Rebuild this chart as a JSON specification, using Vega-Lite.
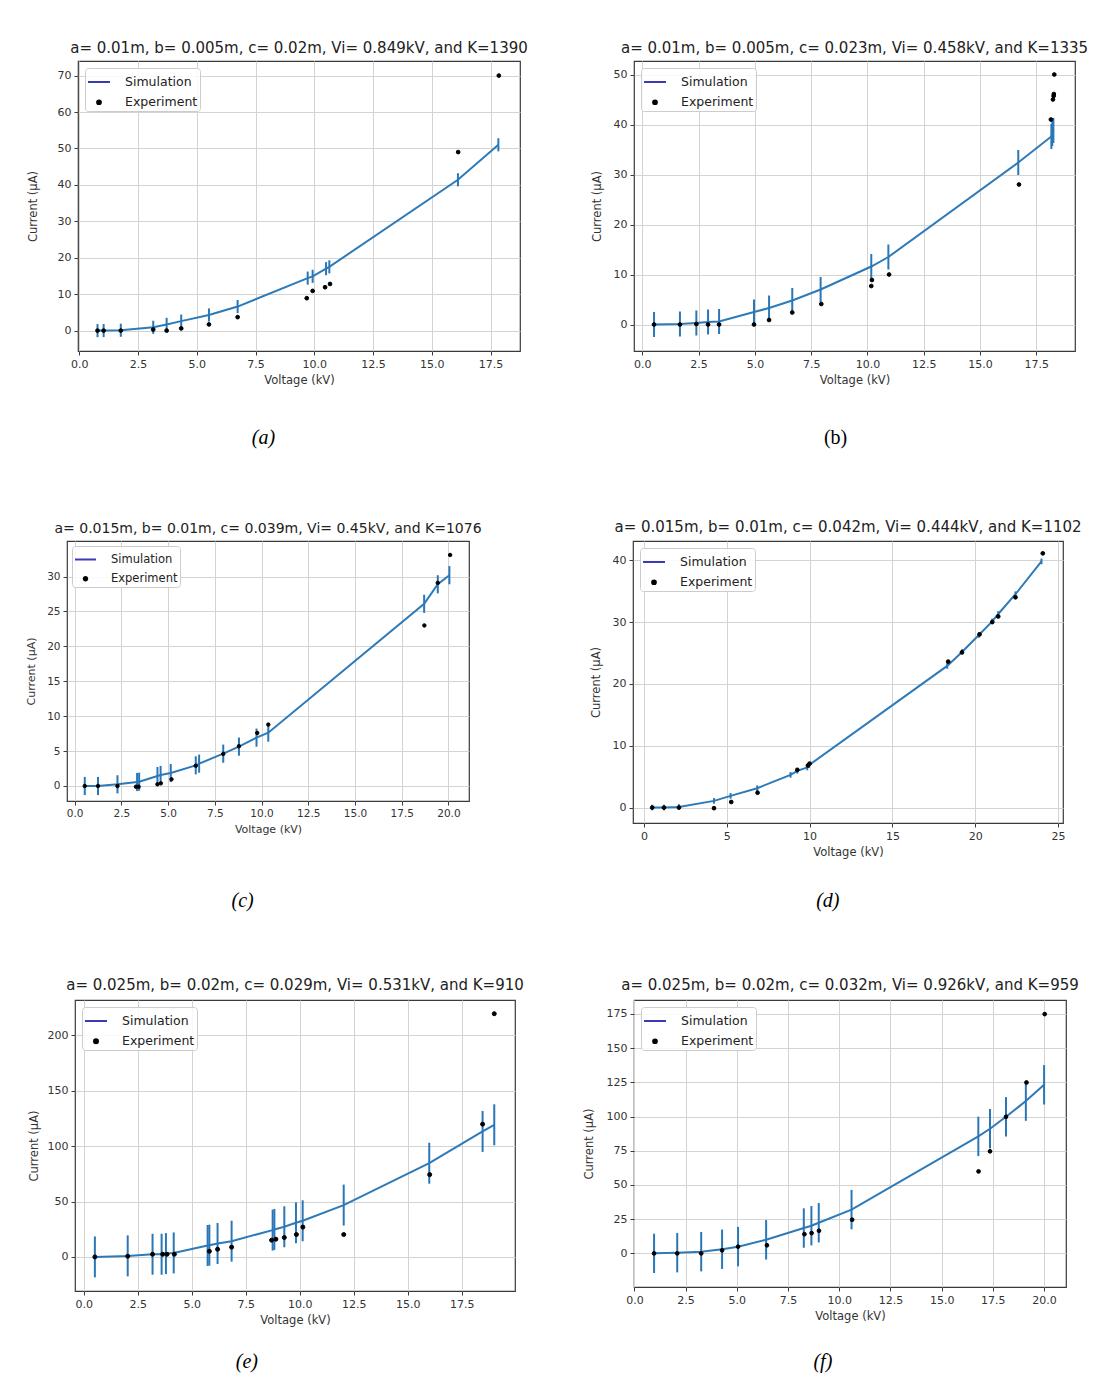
{
  "$schema": "https://vega.github.io/schema/vega-lite/v6.json",
  "padding": {"left": 10, "top": 40, "right": 5, "bottom": 0},
  "background": "white",
  "config": {
    "font": "DejaVu Sans",
    "view": {"stroke": "#3a3a3a", "strokeWidth": 1.2},
    "axis": {"grid": true, "gridColor": "#d3d3d3", "gridWidth": 1, "domain": false, "tickColor": "#3a3a3a", "tickSize": 4, "tickWidth": 1, "labelFont": "DejaVu Sans", "labelFontSize": 11, "labelColor": "#333333", "labelPadding": 3, "titleFont": "DejaVu Sans", "titleFontSize": 11.5, "titleFontWeight": "normal", "titleColor": "#333333", "labelFlush": false},
    "axisX": {"titlePadding": 5},
    "title": {"font": "DejaVu Sans", "fontSize": 15, "fontWeight": "normal", "color": "#222222", "anchor": "middle"},
    "legend": {"orient": "top-left", "offset": 7, "padding": 2, "fillColor": "rgba(255,255,255,0.85)", "strokeColor": "#cccccc", "cornerRadius": 3, "labelFont": "DejaVu Sans", "labelFontSize": 12.5, "labelColor": "#222222", "labelOffset": 14, "rowPadding": 7, "symbolStrokeWidth": 2}
  },
  "datasets": {
    "sim": [
      {"p":"a","V":0.78,"I":0,"e":1.8},{"p":"a","V":1.04,"I":0,"e":1.8},{"p":"a","V":1.77,"I":0.1,"e":1.8},{"p":"a","V":3.15,"I":0.9,"e":1.8},{"p":"a","V":3.72,"I":1.7,"e":1.8},{"p":"a","V":4.34,"I":2.6,"e":1.8},{"p":"a","V":5.52,"I":4.3,"e":1.8},{"p":"a","V":6.74,"I":6.6,"e":1.8},{"p":"a","V":9.72,"I":14.4,"e":1.8},{"p":"a","V":9.93,"I":14.9,"e":1.8},{"p":"a","V":10.5,"I":17.0,"e":1.8},{"p":"a","V":10.64,"I":17.5,"e":1.8},{"p":"a","V":16.11,"I":41.4,"e":1.8},{"p":"a","V":17.83,"I":51.0,"e":1.8},
      {"p":"b","V":0.52,"I":0,"e":2.5},{"p":"b","V":1.67,"I":0.1,"e":2.5},{"p":"b","V":2.4,"I":0.3,"e":2.5},{"p":"b","V":2.92,"I":0.5,"e":2.5},{"p":"b","V":3.41,"I":0.6,"e":2.5},{"p":"b","V":4.96,"I":2.5,"e":2.5},{"p":"b","V":5.63,"I":3.3,"e":2.5},{"p":"b","V":6.66,"I":4.8,"e":2.5},{"p":"b","V":7.92,"I":7.0,"e":2.5},{"p":"b","V":10.17,"I":11.6,"e":2.5},{"p":"b","V":10.93,"I":13.5,"e":2.5},{"p":"b","V":16.7,"I":32.4,"e":2.5},{"p":"b","V":18.17,"I":37.6,"e":2.5},{"p":"b","V":18.21,"I":38.2,"e":2.5},{"p":"b","V":18.26,"I":38.8,"e":2.5},
      {"p":"c","V":0.54,"I":0,"e":1.3},{"p":"c","V":1.25,"I":0,"e":1.3},{"p":"c","V":2.29,"I":0.24,"e":1.3},{"p":"c","V":3.34,"I":0.57,"e":1.3},{"p":"c","V":3.45,"I":0.62,"e":1.3},{"p":"c","V":4.43,"I":1.43,"e":1.3},{"p":"c","V":4.6,"I":1.58,"e":1.3},{"p":"c","V":5.14,"I":1.86,"e":1.3},{"p":"c","V":6.48,"I":2.96,"e":1.3},{"p":"c","V":6.66,"I":3.2,"e":1.3},{"p":"c","V":7.95,"I":4.63,"e":1.3},{"p":"c","V":8.79,"I":5.64,"e":1.3},{"p":"c","V":9.73,"I":6.93,"e":1.3},{"p":"c","V":10.36,"I":7.64,"e":1.3},{"p":"c","V":18.7,"I":26.1,"e":1.3},{"p":"c","V":19.43,"I":28.9,"e":1.3},{"p":"c","V":20.05,"I":30.2,"e":1.3},
      {"p":"d","V":0.5,"I":0,"e":0.45},{"p":"d","V":1.21,"I":0,"e":0.45},{"p":"d","V":2.11,"I":0.1,"e":0.45},{"p":"d","V":4.23,"I":1.08,"e":0.45},{"p":"d","V":5.23,"I":1.89,"e":0.45},{"p":"d","V":6.84,"I":3.13,"e":0.45},{"p":"d","V":8.85,"I":5.28,"e":0.45},{"p":"d","V":9.26,"I":5.93,"e":0.45},{"p":"d","V":9.86,"I":6.47,"e":0.45},{"p":"d","V":9.96,"I":6.85,"e":0.45},{"p":"d","V":18.31,"I":22.9,"e":0.45},{"p":"d","V":19.22,"I":25.2,"e":0.45},{"p":"d","V":20.22,"I":27.9,"e":0.45},{"p":"d","V":21.03,"I":30.1,"e":0.45},{"p":"d","V":21.39,"I":31.3,"e":0.45},{"p":"d","V":22.43,"I":34.5,"e":0.45},{"p":"d","V":24.0,"I":39.8,"e":0.45},
      {"p":"e","V":0.52,"I":0,"e":18.5},{"p":"e","V":2.04,"I":0.9,"e":18.5},{"p":"e","V":3.19,"I":2.4,"e":18.5},{"p":"e","V":3.61,"I":2.4,"e":18.5},{"p":"e","V":3.81,"I":3.0,"e":18.5},{"p":"e","V":4.17,"I":3.6,"e":18.5},{"p":"e","V":5.74,"I":10.3,"e":18.5},{"p":"e","V":5.82,"I":10.6,"e":18.5},{"p":"e","V":6.2,"I":12.1,"e":18.5},{"p":"e","V":6.85,"I":14.2,"e":18.5},{"p":"e","V":8.75,"I":24.2,"e":18.5},{"p":"e","V":8.83,"I":24.8,"e":18.5},{"p":"e","V":9.29,"I":27.2,"e":18.5},{"p":"e","V":9.83,"I":30.8,"e":18.5},{"p":"e","V":10.14,"I":32.6,"e":18.5},{"p":"e","V":12.04,"I":46.8,"e":18.5},{"p":"e","V":16.0,"I":84.6,"e":18.5},{"p":"e","V":18.47,"I":113.3,"e":18.5},{"p":"e","V":19.01,"I":119.3,"e":18.5},
      {"p":"f","V":0.96,"I":0,"e":14.4},{"p":"f","V":2.09,"I":0.5,"e":14.4},{"p":"f","V":3.26,"I":1.2,"e":14.4},{"p":"f","V":4.28,"I":3.0,"e":14.4},{"p":"f","V":5.06,"I":4.9,"e":14.4},{"p":"f","V":6.43,"I":9.9,"e":14.4},{"p":"f","V":8.27,"I":18.5,"e":14.4},{"p":"f","V":8.64,"I":20.2,"e":14.4},{"p":"f","V":9.0,"I":22.4,"e":14.4},{"p":"f","V":10.6,"I":32.0,"e":14.4},{"p":"f","V":16.79,"I":85.5,"e":14.4},{"p":"f","V":17.36,"I":91.1,"e":14.4},{"p":"f","V":18.14,"I":99.8,"e":14.4},{"p":"f","V":19.11,"I":111.3,"e":14.4},{"p":"f","V":20.0,"I":123.2,"e":14.4}
    ],
    "exp": [
      {"p":"a","V":0.78,"I":0},{"p":"a","V":1.04,"I":0},{"p":"a","V":1.77,"I":0},{"p":"a","V":3.15,"I":0.3},{"p":"a","V":3.72,"I":0},{"p":"a","V":4.34,"I":0.6},{"p":"a","V":5.52,"I":1.7},{"p":"a","V":6.74,"I":3.7},{"p":"a","V":9.68,"I":8.9},{"p":"a","V":9.93,"I":10.9},{"p":"a","V":10.46,"I":11.9},{"p":"a","V":10.67,"I":12.8},{"p":"a","V":16.12,"I":49.0},{"p":"a","V":17.85,"I":70.0},
      {"p":"b","V":0.52,"I":0},{"p":"b","V":1.67,"I":0},{"p":"b","V":2.4,"I":0.1},{"p":"b","V":2.92,"I":0},{"p":"b","V":3.41,"I":0},{"p":"b","V":4.96,"I":0},{"p":"b","V":5.63,"I":0.9},{"p":"b","V":6.66,"I":2.4},{"p":"b","V":7.95,"I":4.1},{"p":"b","V":10.17,"I":7.7},{"p":"b","V":10.2,"I":8.9},{"p":"b","V":10.96,"I":10.0},{"p":"b","V":16.73,"I":28.0},{"p":"b","V":18.15,"I":41.0},{"p":"b","V":18.24,"I":45.0},{"p":"b","V":18.27,"I":45.7},{"p":"b","V":18.28,"I":46.1},{"p":"b","V":18.3,"I":50.0},
      {"p":"c","V":0.54,"I":0},{"p":"c","V":1.25,"I":0},{"p":"c","V":2.29,"I":0},{"p":"c","V":3.28,"I":-0.1},{"p":"c","V":3.42,"I":-0.1},{"p":"c","V":4.43,"I":0.24},{"p":"c","V":4.61,"I":0.38},{"p":"c","V":5.18,"I":0.96},{"p":"c","V":6.48,"I":2.9},{"p":"c","V":7.95,"I":4.6},{"p":"c","V":8.79,"I":5.7},{"p":"c","V":9.77,"I":7.6},{"p":"c","V":10.36,"I":8.8},{"p":"c","V":18.71,"I":23.0},{"p":"c","V":19.43,"I":29.1},{"p":"c","V":20.09,"I":33.1},
      {"p":"d","V":0.5,"I":0},{"p":"d","V":1.21,"I":0},{"p":"d","V":2.11,"I":0},{"p":"d","V":4.23,"I":-0.1},{"p":"d","V":5.27,"I":0.9},{"p":"d","V":6.86,"I":2.4},{"p":"d","V":9.26,"I":6.1},{"p":"d","V":9.9,"I":6.8},{"p":"d","V":10.0,"I":7.1},{"p":"d","V":18.37,"I":23.6},{"p":"d","V":19.2,"I":25.1},{"p":"d","V":20.26,"I":28.0},{"p":"d","V":21.03,"I":30.0},{"p":"d","V":21.39,"I":30.9},{"p":"d","V":22.43,"I":34.0},{"p":"d","V":24.08,"I":41.1},
      {"p":"e","V":0.52,"I":0},{"p":"e","V":2.04,"I":0.6},{"p":"e","V":3.19,"I":2.4},{"p":"e","V":3.66,"I":2.4},{"p":"e","V":3.86,"I":2.4},{"p":"e","V":4.2,"I":2.4},{"p":"e","V":5.82,"I":5.1},{"p":"e","V":6.2,"I":6.9},{"p":"e","V":6.85,"I":8.8},{"p":"e","V":8.7,"I":15.1},{"p":"e","V":8.9,"I":16.0},{"p":"e","V":9.29,"I":17.5},{"p":"e","V":9.85,"I":20.2},{"p":"e","V":10.15,"I":26.9},{"p":"e","V":12.04,"I":20.2},{"p":"e","V":16.02,"I":74.3},{"p":"e","V":18.47,"I":119.9},{"p":"e","V":19.01,"I":219.6},
      {"p":"f","V":0.96,"I":0},{"p":"f","V":2.09,"I":0},{"p":"f","V":3.26,"I":0},{"p":"f","V":4.28,"I":2.2},{"p":"f","V":5.06,"I":4.9},{"p":"f","V":6.47,"I":5.9},{"p":"f","V":8.3,"I":14.0},{"p":"f","V":8.65,"I":14.8},{"p":"f","V":9.01,"I":16.5},{"p":"f","V":10.63,"I":24.6},{"p":"f","V":16.8,"I":59.9},{"p":"f","V":17.36,"I":74.6},{"p":"f","V":18.14,"I":99.8},{"p":"f","V":19.14,"I":124.9},{"p":"f","V":20.03,"I":174.9}
    ]
  },
  "resolve": {"scale": {"color": "independent", "shape": "independent", "size": "independent"}, "legend": {"color": "independent", "shape": "independent", "size": "independent"}},
  "columns": 1,
  "align": "none",
  "spacing": 70,
  "concat": [
    {
      "columns": 2, "align": "none", "spacing": 0,
      "resolve": {"scale": {"color": "independent", "shape": "independent", "size": "independent"}, "legend": {"color": "independent", "shape": "independent", "size": "independent"}},
      "concat": [
        {"width": 16, "height": 1, "data": {"values": []}, "mark": "point", "view": {"stroke": null}},
        {
          "columns": 2,
          "align": "none",
          "spacing": 61,
          "resolve": {"scale": {"color": "independent", "shape": "independent", "size": "independent"}, "legend": {"color": "independent", "shape": "independent", "size": "independent"}},
          "concat": [
            {
              "title": {"text": "(a)", "orient": "bottom", "offset": 42, "dx": -14, "font": "Liberation Serif", "fontStyle": "italic", "fontSize": 20, "fontWeight": "normal", "color": "#000000"},
              "resolve": {"scale": {"color": "independent", "shape": "independent", "size": "independent"}, "legend": {"color": "independent", "shape": "independent", "size": "independent"}},
              "vconcat": [
                {
                  "width": 442, "height": 290,
                  "title": {"text": "a= 0.01m, b= 0.005m, c= 0.02m, Vi= 0.849kV, and K=1390", "offset": 5},
                  "encoding": {
                    "x": {"field": "V", "type": "quantitative", "scale": {"domain": [-0.05, 18.75], "nice": false, "zero": false}, "axis": {"title": "Voltage (kV)", "values": [0, 2.5, 5, 7.5, 10, 12.5, 15, 17.5], "format": ".1f"}},
                    "y": {"field": "I", "type": "quantitative", "scale": {"domain": [-5.6, 74], "nice": false, "zero": false}, "axis": {"title": "Current (μA)", "values": [0, 10, 20, 30, 40, 50, 60, 70], "format": "d", "titlePadding": 19}}
                  },
                  "layer": [
                    {"data": {"name": "sim"}, "transform": [{"filter": "datum.p === 'a'"}], "mark": {"type": "line", "color": "#2d7ab9", "strokeWidth": 2}},
                    {"data": {"name": "sim"}, "transform": [{"filter": "datum.p === 'a'"}], "mark": {"type": "errorbar", "color": "#2a77b7", "thickness": 2}, "encoding": {"yError": {"field": "e"}}},
                    {"data": {"name": "exp"}, "transform": [{"filter": "datum.p === 'a'"}], "mark": {"type": "point", "filled": false, "fill": "#000000", "strokeWidth": 1, "opacity": 1},
                     "encoding": {
                       "color": {"datum": "Experiment", "scale": {"domain": ["Simulation", "Experiment"], "range": ["#3a3ab5", "#000000"]}, "legend": {"title": null}},
                       "shape": {"datum": "Experiment", "scale": {"domain": ["Simulation", "Experiment"], "range": ["stroke", "circle"]}, "legend": {"title": null}},
                       "size": {"datum": "Experiment", "scale": {"domain": ["Simulation", "Experiment"], "range": [484, 14]}, "legend": {"title": null}}
                     }}
                  ]
                }
              ]
            },
            {
              "title": {"text": "(b)", "orient": "bottom", "offset": 42, "dx": -4, "font": "Liberation Serif", "fontSize": 20, "fontWeight": "normal", "color": "#000000"},
              "resolve": {"scale": {"color": "independent", "shape": "independent", "size": "independent"}, "legend": {"color": "independent", "shape": "independent", "size": "independent"}},
              "vconcat": [
                {
                  "width": 441, "height": 290,
                  "title": {"text": "a= 0.01m, b= 0.005m, c= 0.023m, Vi= 0.458kV, and K=1335", "offset": 5},
                  "encoding": {
                    "x": {"field": "V", "type": "quantitative", "scale": {"domain": [-0.37, 19.22], "nice": false, "zero": false}, "axis": {"title": "Voltage (kV)", "values": [0, 2.5, 5, 7.5, 10, 12.5, 15, 17.5], "format": ".1f"}},
                    "y": {"field": "I", "type": "quantitative", "scale": {"domain": [-5.3, 52.7], "nice": false, "zero": false}, "axis": {"title": "Current (μA)", "values": [0, 10, 20, 30, 40, 50], "format": "d", "titlePadding": 11}}
                  },
                  "layer": [
                    {"data": {"name": "sim"}, "transform": [{"filter": "datum.p === 'b'"}], "mark": {"type": "line", "color": "#2d7ab9", "strokeWidth": 2}},
                    {"data": {"name": "sim"}, "transform": [{"filter": "datum.p === 'b'"}], "mark": {"type": "errorbar", "color": "#2a77b7", "thickness": 2}, "encoding": {"yError": {"field": "e"}}},
                    {"data": {"name": "exp"}, "transform": [{"filter": "datum.p === 'b'"}], "mark": {"type": "point", "filled": false, "fill": "#000000", "strokeWidth": 1, "opacity": 1},
                     "encoding": {
                       "color": {"datum": "Experiment", "scale": {"domain": ["Simulation", "Experiment"], "range": ["#3a3ab5", "#000000"]}, "legend": {"title": null}},
                       "shape": {"datum": "Experiment", "scale": {"domain": ["Simulation", "Experiment"], "range": ["stroke", "circle"]}, "legend": {"title": null}},
                       "size": {"datum": "Experiment", "scale": {"domain": ["Simulation", "Experiment"], "range": [484, 14]}, "legend": {"title": null}}
                     }}
                  ]
                }
              ]
            }
          ]
        }
      ]
    },
    {
      "columns": 1,
      "align": "none",
      "spacing": 65,
      "resolve": {"scale": {"color": "independent", "shape": "independent", "size": "independent"}, "legend": {"color": "independent", "shape": "independent", "size": "independent"}},
      "concat": [
        {
          "columns": 2, "align": "none", "spacing": 0,
          "resolve": {"scale": {"color": "independent", "shape": "independent", "size": "independent"}, "legend": {"color": "independent", "shape": "independent", "size": "independent"}},
          "concat": [
            {"width": 15, "height": 1, "data": {"values": []}, "mark": "point", "view": {"stroke": null}},
            {
              "columns": 2,
              "align": "none",
              "spacing": 106,
              "resolve": {"scale": {"color": "independent", "shape": "independent", "size": "independent"}, "legend": {"color": "independent", "shape": "independent", "size": "independent"}},
              "concat": [
                {
                  "title": {"text": "(c)", "orient": "bottom", "offset": 56, "dx": -11, "font": "Liberation Serif", "fontStyle": "italic", "fontSize": 20, "fontWeight": "normal", "color": "#000000"},
                  "resolve": {"scale": {"color": "independent", "shape": "independent", "size": "independent"}, "legend": {"color": "independent", "shape": "independent", "size": "independent"}},
                  "vconcat": [
                    {
                      "width": 402, "height": 260,
                      "title": {"text": "a= 0.015m, b= 0.01m, c= 0.039m, Vi= 0.45kV, and K=1076", "offset": 5, "fontSize": 14},
                      "encoding": {
                        "x": {"field": "V", "type": "quantitative", "scale": {"domain": [-0.41, 21.1], "nice": false, "zero": false}, "axis": {"title": "Voltage (kV)", "values": [0, 2.5, 5, 7.5, 10, 12.5, 15, 17.5, 20], "format": ".1f", "labelFontSize": 10.5, "titleFontSize": 11}},
                        "y": {"field": "I", "type": "quantitative", "scale": {"domain": [-2.15, 35.1], "nice": false, "zero": false}, "axis": {"title": "Current (μA)", "values": [0, 5, 10, 15, 20, 25, 30], "format": "d", "titlePadding": 10, "labelFontSize": 10.5, "titleFontSize": 11}}
                      },
                      "layer": [
                        {"data": {"name": "sim"}, "transform": [{"filter": "datum.p === 'c'"}], "mark": {"type": "line", "color": "#2d7ab9", "strokeWidth": 2}},
                        {"data": {"name": "sim"}, "transform": [{"filter": "datum.p === 'c'"}], "mark": {"type": "errorbar", "color": "#2a77b7", "thickness": 2}, "encoding": {"yError": {"field": "e"}}},
                        {"data": {"name": "exp"}, "transform": [{"filter": "datum.p === 'c'"}], "mark": {"type": "point", "filled": false, "fill": "#000000", "strokeWidth": 1, "opacity": 1},
                         "encoding": {
                           "color": {"datum": "Experiment", "scale": {"domain": ["Simulation", "Experiment"], "range": ["#3a3ab5", "#000000"]}, "legend": {"title": null, "labelFontSize": 11.5, "offset": 5}},
                           "shape": {"datum": "Experiment", "scale": {"domain": ["Simulation", "Experiment"], "range": ["stroke", "circle"]}, "legend": {"title": null, "labelFontSize": 11.5, "offset": 5}},
                           "size": {"datum": "Experiment", "scale": {"domain": ["Simulation", "Experiment"], "range": [441, 12]}, "legend": {"title": null, "labelFontSize": 11.5, "offset": 5}}
                         }}
                      ]
                    }
                  ]
                },
                {
                  "title": {"text": "(d)", "orient": "bottom", "offset": 33, "dx": -8, "font": "Liberation Serif", "fontStyle": "italic", "fontSize": 20, "fontWeight": "normal", "color": "#000000"},
                  "resolve": {"scale": {"color": "independent", "shape": "independent", "size": "independent"}, "legend": {"color": "independent", "shape": "independent", "size": "independent"}},
                  "vconcat": [
                    {
                      "width": 430, "height": 282,
                      "title": {"text": "a= 0.015m, b= 0.01m, c= 0.042m, Vi= 0.444kV, and K=1102", "offset": 6},
                      "encoding": {
                        "x": {"field": "V", "type": "quantitative", "scale": {"domain": [-0.66, 25.3], "nice": false, "zero": false}, "axis": {"title": "Voltage (kV)", "values": [0, 5, 10, 15, 20, 25], "format": "d"}},
                        "y": {"field": "I", "type": "quantitative", "scale": {"domain": [-2.5, 43.1], "nice": false, "zero": false}, "axis": {"title": "Current (μA)", "values": [0, 10, 20, 30, 40], "format": "d", "titlePadding": 11}}
                      },
                      "layer": [
                        {"data": {"name": "sim"}, "transform": [{"filter": "datum.p === 'd'"}], "mark": {"type": "line", "color": "#2d7ab9", "strokeWidth": 2}},
                        {"data": {"name": "sim"}, "transform": [{"filter": "datum.p === 'd'"}], "mark": {"type": "errorbar", "color": "#2a77b7", "thickness": 2}, "encoding": {"yError": {"field": "e"}}},
                        {"data": {"name": "exp"}, "transform": [{"filter": "datum.p === 'd'"}], "mark": {"type": "point", "filled": false, "fill": "#000000", "strokeWidth": 1, "opacity": 1},
                         "encoding": {
                           "color": {"datum": "Experiment", "scale": {"domain": ["Simulation", "Experiment"], "range": ["#3a3ab5", "#000000"]}, "legend": {"title": null}},
                           "shape": {"datum": "Experiment", "scale": {"domain": ["Simulation", "Experiment"], "range": ["stroke", "circle"]}, "legend": {"title": null}},
                           "size": {"datum": "Experiment", "scale": {"domain": ["Simulation", "Experiment"], "range": [484, 14]}, "legend": {"title": null}}
                         }}
                      ]
                    }
                  ]
                }
              ]
            }
          ]
        },
        {
          "columns": 2, "align": "none", "spacing": 0,
          "resolve": {"scale": {"color": "independent", "shape": "independent", "size": "independent"}, "legend": {"color": "independent", "shape": "independent", "size": "independent"}},
          "concat": [
            {"width": 17, "height": 1, "data": {"values": []}, "mark": "point", "view": {"stroke": null}},
            {
              "columns": 2,
              "align": "none",
              "spacing": 57,
              "resolve": {"scale": {"color": "independent", "shape": "independent", "size": "independent"}, "legend": {"color": "independent", "shape": "independent", "size": "independent"}},
              "concat": [
                {
                  "title": {"text": "(e)", "orient": "bottom", "offset": 26, "dx": -29, "font": "Liberation Serif", "fontStyle": "italic", "fontSize": 20, "fontWeight": "normal", "color": "#000000"},
                  "resolve": {"scale": {"color": "independent", "shape": "independent", "size": "independent"}, "legend": {"color": "independent", "shape": "independent", "size": "independent"}},
                  "vconcat": [
                    {
                      "width": 440, "height": 291,
                      "title": {"text": "a= 0.025m, b= 0.02m, c= 0.029m, Vi= 0.531kV, and K=910", "offset": 7},
                      "encoding": {
                        "x": {"field": "V", "type": "quantitative", "scale": {"domain": [-0.4, 19.97], "nice": false, "zero": false}, "axis": {"title": "Voltage (kV)", "values": [0, 2.5, 5, 7.5, 10, 12.5, 15, 17.5], "format": ".1f"}},
                        "y": {"field": "I", "type": "quantitative", "scale": {"domain": [-30.8, 232], "nice": false, "zero": false}, "axis": {"title": "Current (μA)", "values": [0, 50, 100, 150, 200], "format": "d", "titlePadding": 8}}
                      },
                      "layer": [
                        {"data": {"name": "sim"}, "transform": [{"filter": "datum.p === 'e'"}], "mark": {"type": "line", "color": "#2d7ab9", "strokeWidth": 2}},
                        {"data": {"name": "sim"}, "transform": [{"filter": "datum.p === 'e'"}], "mark": {"type": "errorbar", "color": "#2a77b7", "thickness": 2}, "encoding": {"yError": {"field": "e"}}},
                        {"data": {"name": "exp"}, "transform": [{"filter": "datum.p === 'e'"}], "mark": {"type": "point", "filled": false, "fill": "#000000", "strokeWidth": 1, "opacity": 1},
                         "encoding": {
                           "color": {"datum": "Experiment", "scale": {"domain": ["Simulation", "Experiment"], "range": ["#3a3ab5", "#000000"]}, "legend": {"title": null}},
                           "shape": {"datum": "Experiment", "scale": {"domain": ["Simulation", "Experiment"], "range": ["stroke", "circle"]}, "legend": {"title": null}},
                           "size": {"datum": "Experiment", "scale": {"domain": ["Simulation", "Experiment"], "range": [484, 16]}, "legend": {"title": null}}
                         }}
                      ]
                    }
                  ]
                },
                {
                  "title": {"text": "(f)", "orient": "bottom", "offset": 30, "dx": -8, "font": "Liberation Serif", "fontStyle": "italic", "fontSize": 20, "fontWeight": "normal", "color": "#000000"},
                  "resolve": {"scale": {"color": "independent", "shape": "independent", "size": "independent"}, "legend": {"color": "independent", "shape": "independent", "size": "independent"}},
                  "vconcat": [
                    {
                      "width": 432, "height": 287,
                      "title": {"text": "a= 0.025m, b= 0.02m, c= 0.032m, Vi= 0.926kV, and K=959", "offset": 7},
                      "encoding": {
                        "x": {"field": "V", "type": "quantitative", "scale": {"domain": [-0.02, 21.07], "nice": false, "zero": false}, "axis": {"title": "Voltage (kV)", "values": [0, 2.5, 5, 7.5, 10, 12.5, 15, 17.5, 20], "format": ".1f"}},
                        "y": {"field": "I", "type": "quantitative", "scale": {"domain": [-24.6, 185.2], "nice": false, "zero": false}, "axis": {"title": "Current (μA)", "values": [0, 25, 50, 75, 100, 125, 150, 175], "format": "d", "titlePadding": 12}}
                      },
                      "layer": [
                        {"data": {"name": "sim"}, "transform": [{"filter": "datum.p === 'f'"}], "mark": {"type": "line", "color": "#2d7ab9", "strokeWidth": 2}},
                        {"data": {"name": "sim"}, "transform": [{"filter": "datum.p === 'f'"}], "mark": {"type": "errorbar", "color": "#2a77b7", "thickness": 2}, "encoding": {"yError": {"field": "e"}}},
                        {"data": {"name": "exp"}, "transform": [{"filter": "datum.p === 'f'"}], "mark": {"type": "point", "filled": false, "fill": "#000000", "strokeWidth": 1, "opacity": 1},
                         "encoding": {
                           "color": {"datum": "Experiment", "scale": {"domain": ["Simulation", "Experiment"], "range": ["#3a3ab5", "#000000"]}, "legend": {"title": null}},
                           "shape": {"datum": "Experiment", "scale": {"domain": ["Simulation", "Experiment"], "range": ["stroke", "circle"]}, "legend": {"title": null}},
                           "size": {"datum": "Experiment", "scale": {"domain": ["Simulation", "Experiment"], "range": [484, 14]}, "legend": {"title": null}}
                         }}
                      ]
                    }
                  ]
                }
              ]
            }
          ]
        }
      ]
    }
  ]
}
